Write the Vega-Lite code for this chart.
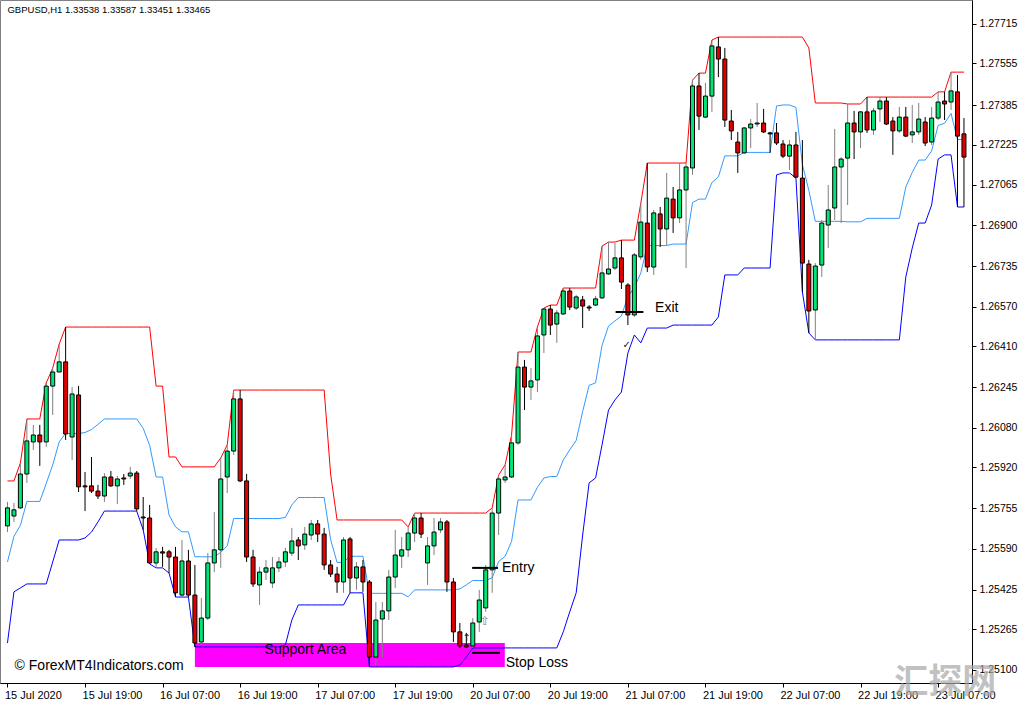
{
"$schema":"https://vega.github.io/schema/vega-lite/v6.json",
"width":972,"height":683,"padding":{"left":0,"top":0,"right":52,"bottom":21},"autosize":{"type":"none"},
"background":"white",
"config":{"view":{"stroke":"#808080"},"font":"Liberation Sans"},
"datasets":{
"bars":[
{"i":0,"o":1.25683,"h":1.25780,"l":1.25658,"c":1.25756,"up":1.25865,"md":1.25537,"lo":1.25209},
{"i":1,"o":1.25723,"h":1.25776,"l":1.25699,"c":1.25748,"up":1.25865,"md":1.25641,"lo":1.25416},
{"i":2,"o":1.25756,"h":1.25938,"l":1.25752,"c":1.25893,"up":1.25938,"md":1.25685,"lo":1.25432},
{"i":3,"o":1.25893,"h":1.26116,"l":1.25857,"c":1.26027,"up":1.26116,"md":1.25782,"lo":1.25448},
{"i":4,"o":1.26023,"h":1.26092,"l":1.25990,"c":1.26051,"up":1.26116,"md":1.25782,"lo":1.25448},
{"i":5,"o":1.26051,"h":1.26092,"l":1.25926,"c":1.26023,"up":1.26116,"md":1.25782,"lo":1.25448},
{"i":6,"o":1.26023,"h":1.26262,"l":1.26003,"c":1.26249,"up":1.26262,"md":1.25855,"lo":1.25448},
{"i":7,"o":1.26249,"h":1.26322,"l":1.26132,"c":1.26306,"up":1.26322,"md":1.25930,"lo":1.25537},
{"i":8,"o":1.26306,"h":1.26419,"l":1.26306,"c":1.26347,"up":1.26419,"md":1.26023,"lo":1.25626},
{"i":9,"o":1.26347,"h":1.26488,"l":1.26031,"c":1.26055,"up":1.26488,"md":1.26057,"lo":1.25626},
{"i":10,"o":1.26043,"h":1.26245,"l":1.25950,"c":1.26217,"up":1.26488,"md":1.26057,"lo":1.25626},
{"i":11,"o":1.26213,"h":1.26249,"l":1.25820,"c":1.25841,"up":1.26488,"md":1.26057,"lo":1.25626},
{"i":12,"o":1.25845,"h":1.25901,"l":1.25743,"c":1.25841,"up":1.26488,"md":1.26061,"lo":1.25634},
{"i":13,"o":1.25845,"h":1.25962,"l":1.25816,"c":1.25824,"up":1.26488,"md":1.26073,"lo":1.25658},
{"i":14,"o":1.25824,"h":1.25849,"l":1.25792,"c":1.25804,"up":1.26488,"md":1.26094,"lo":1.25699},
{"i":15,"o":1.25804,"h":1.25897,"l":1.25780,"c":1.25881,"up":1.26488,"md":1.26116,"lo":1.25743},
{"i":16,"o":1.25881,"h":1.25905,"l":1.25841,"c":1.25845,"up":1.26488,"md":1.26116,"lo":1.25743},
{"i":17,"o":1.25845,"h":1.25885,"l":1.25772,"c":1.25873,"up":1.26488,"md":1.26116,"lo":1.25743},
{"i":18,"o":1.25877,"h":1.25893,"l":1.25849,"c":1.25873,"up":1.26488,"md":1.26116,"lo":1.25743},
{"i":19,"o":1.25885,"h":1.25922,"l":1.25873,"c":1.25897,"up":1.26488,"md":1.26116,"lo":1.25743},
{"i":20,"o":1.25897,"h":1.25905,"l":1.25743,"c":1.25752,"up":1.26488,"md":1.26116,"lo":1.25743},
{"i":21,"o":1.25719,"h":1.25800,"l":1.25667,"c":1.25715,"up":1.26488,"md":1.26078,"lo":1.25667},
{"i":22,"o":1.25715,"h":1.25768,"l":1.25529,"c":1.25533,"up":1.26488,"md":1.26009,"lo":1.25529},
{"i":23,"o":1.25533,"h":1.25594,"l":1.25513,"c":1.25578,"up":1.26249,"md":1.25881,"lo":1.25513},
{"i":24,"o":1.25578,"h":1.25598,"l":1.25517,"c":1.25573,"up":1.26249,"md":1.25881,"lo":1.25513},
{"i":25,"o":1.25578,"h":1.25586,"l":1.25492,"c":1.25557,"up":1.25962,"md":1.25727,"lo":1.25492},
{"i":26,"o":1.25557,"h":1.25598,"l":1.25395,"c":1.25412,"up":1.25962,"md":1.25679,"lo":1.25395},
{"i":27,"o":1.25403,"h":1.25626,"l":1.25395,"c":1.25541,"up":1.25922,"md":1.25659,"lo":1.25395},
{"i":28,"o":1.25541,"h":1.25586,"l":1.25395,"c":1.25403,"up":1.25922,"md":1.25659,"lo":1.25395},
{"i":29,"o":1.25403,"h":1.25525,"l":1.25193,"c":1.25209,"up":1.25922,"md":1.25558,"lo":1.25193},
{"i":30,"o":1.25213,"h":1.25391,"l":1.25201,"c":1.25310,"up":1.25922,"md":1.25558,"lo":1.25193},
{"i":31,"o":1.25310,"h":1.25573,"l":1.25302,"c":1.25533,"up":1.25922,"md":1.25558,"lo":1.25193},
{"i":32,"o":1.25533,"h":1.25739,"l":1.25496,"c":1.25586,"up":1.25922,"md":1.25558,"lo":1.25193},
{"i":33,"o":1.25586,"h":1.25958,"l":1.25513,"c":1.25873,"up":1.25958,"md":1.25576,"lo":1.25193},
{"i":34,"o":1.25881,"h":1.26011,"l":1.25816,"c":1.25986,"up":1.26011,"md":1.25602,"lo":1.25193},
{"i":35,"o":1.25986,"h":1.26233,"l":1.25970,"c":1.26197,"up":1.26233,"md":1.25713,"lo":1.25193},
{"i":36,"o":1.26197,"h":1.26233,"l":1.25861,"c":1.25865,"up":1.26233,"md":1.25713,"lo":1.25193},
{"i":37,"o":1.25865,"h":1.25893,"l":1.25537,"c":1.25557,"up":1.26233,"md":1.25713,"lo":1.25193},
{"i":38,"o":1.25557,"h":1.25586,"l":1.25436,"c":1.25448,"up":1.26233,"md":1.25713,"lo":1.25193},
{"i":39,"o":1.25444,"h":1.25517,"l":1.25363,"c":1.25496,"up":1.26233,"md":1.25713,"lo":1.25193},
{"i":40,"o":1.25496,"h":1.25545,"l":1.25464,"c":1.25513,"up":1.26233,"md":1.25713,"lo":1.25193},
{"i":41,"o":1.25452,"h":1.25557,"l":1.25432,"c":1.25513,"up":1.26233,"md":1.25713,"lo":1.25193},
{"i":42,"o":1.25513,"h":1.25557,"l":1.25496,"c":1.25537,"up":1.26233,"md":1.25713,"lo":1.25193},
{"i":43,"o":1.25537,"h":1.25594,"l":1.25517,"c":1.25578,"up":1.26233,"md":1.25717,"lo":1.25201},
{"i":44,"o":1.25573,"h":1.25675,"l":1.25561,"c":1.25622,"up":1.26233,"md":1.25768,"lo":1.25302},
{"i":45,"o":1.25626,"h":1.25638,"l":1.25545,"c":1.25602,"up":1.26233,"md":1.25798,"lo":1.25363},
{"i":46,"o":1.25606,"h":1.25679,"l":1.25586,"c":1.25650,"up":1.26233,"md":1.25798,"lo":1.25363},
{"i":47,"o":1.25646,"h":1.25707,"l":1.25626,"c":1.25691,"up":1.26233,"md":1.25798,"lo":1.25363},
{"i":48,"o":1.25691,"h":1.25707,"l":1.25618,"c":1.25650,"up":1.26233,"md":1.25798,"lo":1.25363},
{"i":49,"o":1.25650,"h":1.25675,"l":1.25505,"c":1.25525,"up":1.26233,"md":1.25798,"lo":1.25363},
{"i":50,"o":1.25525,"h":1.25545,"l":1.25476,"c":1.25488,"up":1.25893,"md":1.25628,"lo":1.25363},
{"i":51,"o":1.25488,"h":1.25517,"l":1.25412,"c":1.25456,"up":1.25707,"md":1.25535,"lo":1.25363},
{"i":52,"o":1.25456,"h":1.25638,"l":1.25412,"c":1.25626,"up":1.25707,"md":1.25535,"lo":1.25363},
{"i":53,"o":1.25630,"h":1.25638,"l":1.25412,"c":1.25472,"up":1.25707,"md":1.25560,"lo":1.25412},
{"i":54,"o":1.25472,"h":1.25537,"l":1.25424,"c":1.25517,"up":1.25707,"md":1.25560,"lo":1.25412},
{"i":55,"o":1.25517,"h":1.25545,"l":1.25416,"c":1.25456,"up":1.25707,"md":1.25560,"lo":1.25412},
{"i":56,"o":1.25456,"h":1.25464,"l":1.25112,"c":1.25152,"up":1.25707,"md":1.25410,"lo":1.25112},
{"i":57,"o":1.25152,"h":1.25375,"l":1.25120,"c":1.25302,"up":1.25707,"md":1.25410,"lo":1.25112},
{"i":58,"o":1.25306,"h":1.25375,"l":1.25152,"c":1.25339,"up":1.25707,"md":1.25410,"lo":1.25112},
{"i":59,"o":1.25339,"h":1.25505,"l":1.25302,"c":1.25476,"up":1.25707,"md":1.25410,"lo":1.25112},
{"i":60,"o":1.25476,"h":1.25667,"l":1.25432,"c":1.25565,"up":1.25707,"md":1.25410,"lo":1.25112},
{"i":61,"o":1.25561,"h":1.25638,"l":1.25513,"c":1.25586,"up":1.25707,"md":1.25410,"lo":1.25112},
{"i":62,"o":1.25586,"h":1.25679,"l":1.25557,"c":1.25654,"up":1.25679,"md":1.25396,"lo":1.25112},
{"i":63,"o":1.25654,"h":1.25735,"l":1.25618,"c":1.25715,"up":1.25735,"md":1.25424,"lo":1.25112},
{"i":64,"o":1.25715,"h":1.25735,"l":1.25634,"c":1.25650,"up":1.25735,"md":1.25424,"lo":1.25112},
{"i":65,"o":1.25533,"h":1.25638,"l":1.25444,"c":1.25602,"up":1.25735,"md":1.25424,"lo":1.25112},
{"i":66,"o":1.25602,"h":1.25715,"l":1.25565,"c":1.25658,"up":1.25735,"md":1.25424,"lo":1.25112},
{"i":67,"o":1.25667,"h":1.25715,"l":1.25654,"c":1.25699,"up":1.25735,"md":1.25424,"lo":1.25112},
{"i":68,"o":1.25699,"h":1.25707,"l":1.25416,"c":1.25456,"up":1.25735,"md":1.25424,"lo":1.25112},
{"i":69,"o":1.25456,"h":1.25472,"l":1.25213,"c":1.25254,"up":1.25735,"md":1.25424,"lo":1.25112},
{"i":70,"o":1.25254,"h":1.25290,"l":1.25189,"c":1.25197,"up":1.25735,"md":1.25428,"lo":1.25120},
{"i":71,"o":1.25201,"h":1.25250,"l":1.25189,"c":1.25193,"up":1.25735,"md":1.25444,"lo":1.25152},
{"i":72,"o":1.25197,"h":1.25310,"l":1.25189,"c":1.25290,"up":1.25735,"md":1.25462,"lo":1.25189},
{"i":73,"o":1.25294,"h":1.25424,"l":1.25254,"c":1.25383,"up":1.25735,"md":1.25462,"lo":1.25189},
{"i":74,"o":1.25351,"h":1.25525,"l":1.25335,"c":1.25505,"up":1.25735,"md":1.25462,"lo":1.25189},
{"i":75,"o":1.25505,"h":1.25756,"l":1.25412,"c":1.25735,"up":1.25756,"md":1.25473,"lo":1.25189},
{"i":76,"o":1.25735,"h":1.25889,"l":1.25646,"c":1.25873,"up":1.25889,"md":1.25539,"lo":1.25189},
{"i":77,"o":1.25869,"h":1.25930,"l":1.25857,"c":1.25881,"up":1.25930,"md":1.25560,"lo":1.25189},
{"i":78,"o":1.25881,"h":1.26051,"l":1.25877,"c":1.26019,"up":1.26051,"md":1.25620,"lo":1.25189},
{"i":79,"o":1.26019,"h":1.26387,"l":1.26011,"c":1.26326,"up":1.26387,"md":1.25788,"lo":1.25189},
{"i":80,"o":1.26326,"h":1.26355,"l":1.26152,"c":1.26245,"up":1.26387,"md":1.25788,"lo":1.25189},
{"i":81,"o":1.26245,"h":1.26322,"l":1.26193,"c":1.26270,"up":1.26387,"md":1.25788,"lo":1.25189},
{"i":82,"o":1.26274,"h":1.26488,"l":1.26225,"c":1.26452,"up":1.26488,"md":1.25839,"lo":1.25189},
{"i":83,"o":1.26456,"h":1.26565,"l":1.26383,"c":1.26561,"up":1.26565,"md":1.25877,"lo":1.25189},
{"i":84,"o":1.26561,"h":1.26577,"l":1.26456,"c":1.26496,"up":1.26577,"md":1.25883,"lo":1.25189},
{"i":85,"o":1.26500,"h":1.26557,"l":1.26424,"c":1.26545,"up":1.26577,"md":1.25883,"lo":1.25189},
{"i":86,"o":1.26541,"h":1.26646,"l":1.26537,"c":1.26634,"up":1.26646,"md":1.25950,"lo":1.25254},
{"i":87,"o":1.26634,"h":1.26646,"l":1.26557,"c":1.26569,"up":1.26646,"md":1.25991,"lo":1.25335},
{"i":88,"o":1.26565,"h":1.26618,"l":1.26557,"c":1.26610,"up":1.26646,"md":1.26029,"lo":1.25412},
{"i":89,"o":1.26598,"h":1.26614,"l":1.26484,"c":1.26573,"up":1.26646,"md":1.26146,"lo":1.25646},
{"i":90,"o":1.26569,"h":1.26577,"l":1.26553,"c":1.26565,"up":1.26646,"md":1.26252,"lo":1.25857},
{"i":91,"o":1.26577,"h":1.26614,"l":1.26573,"c":1.26602,"up":1.26646,"md":1.26262,"lo":1.25877},
{"i":92,"o":1.26606,"h":1.26816,"l":1.26602,"c":1.26707,"up":1.26816,"md":1.26414,"lo":1.26011},
{"i":93,"o":1.26703,"h":1.26832,"l":1.26699,"c":1.26723,"up":1.26832,"md":1.26492,"lo":1.26152},
{"i":94,"o":1.26727,"h":1.26828,"l":1.26719,"c":1.26768,"up":1.26832,"md":1.26513,"lo":1.26193},
{"i":95,"o":1.26768,"h":1.26840,"l":1.26642,"c":1.26670,"up":1.26840,"md":1.26533,"lo":1.26225},
{"i":96,"o":1.26658,"h":1.26666,"l":1.26496,"c":1.26537,"up":1.26840,"md":1.26612,"lo":1.26383},
{"i":97,"o":1.26537,"h":1.26788,"l":1.26529,"c":1.26780,"up":1.26840,"md":1.26648,"lo":1.26456},
{"i":98,"o":1.26772,"h":1.26990,"l":1.26760,"c":1.26913,"up":1.26990,"md":1.26707,"lo":1.26424},
{"i":99,"o":1.26909,"h":1.27152,"l":1.26711,"c":1.26731,"up":1.27152,"md":1.26818,"lo":1.26484},
{"i":100,"o":1.26731,"h":1.26962,"l":1.26699,"c":1.26950,"up":1.27152,"md":1.26818,"lo":1.26484},
{"i":101,"o":1.26946,"h":1.26974,"l":1.26812,"c":1.26885,"up":1.27152,"md":1.26818,"lo":1.26484},
{"i":102,"o":1.26885,"h":1.27112,"l":1.26820,"c":1.27010,"up":1.27152,"md":1.26818,"lo":1.26484},
{"i":103,"o":1.27006,"h":1.27055,"l":1.26869,"c":1.26930,"up":1.27152,"md":1.26824,"lo":1.26496},
{"i":104,"o":1.26930,"h":1.27152,"l":1.26909,"c":1.27043,"up":1.27152,"md":1.26824,"lo":1.26496},
{"i":105,"o":1.27043,"h":1.27152,"l":1.26727,"c":1.27136,"up":1.27152,"md":1.26824,"lo":1.26496},
{"i":106,"o":1.27132,"h":1.27488,"l":1.27104,"c":1.27464,"up":1.27488,"md":1.26992,"lo":1.26496},
{"i":107,"o":1.27464,"h":1.27516,"l":1.27286,"c":1.27342,"up":1.27516,"md":1.27006,"lo":1.26496},
{"i":108,"o":1.27338,"h":1.27476,"l":1.27334,"c":1.27423,"up":1.27516,"md":1.27006,"lo":1.26496},
{"i":109,"o":1.27423,"h":1.27650,"l":1.27359,"c":1.27626,"up":1.27650,"md":1.27073,"lo":1.26496},
{"i":110,"o":1.27622,"h":1.27662,"l":1.27500,"c":1.27573,"up":1.27662,"md":1.27096,"lo":1.26529},
{"i":111,"o":1.27573,"h":1.27618,"l":1.27298,"c":1.27326,"up":1.27662,"md":1.27181,"lo":1.26699},
{"i":112,"o":1.27322,"h":1.27367,"l":1.27245,"c":1.27282,"up":1.27662,"md":1.27181,"lo":1.26699},
{"i":113,"o":1.27237,"h":1.27278,"l":1.27112,"c":1.27193,"up":1.27662,"md":1.27181,"lo":1.26699},
{"i":114,"o":1.27193,"h":1.27298,"l":1.27189,"c":1.27294,"up":1.27662,"md":1.27195,"lo":1.26727},
{"i":115,"o":1.27294,"h":1.27330,"l":1.27213,"c":1.27310,"up":1.27662,"md":1.27195,"lo":1.26727},
{"i":116,"o":1.27310,"h":1.27395,"l":1.27298,"c":1.27314,"up":1.27662,"md":1.27195,"lo":1.26727},
{"i":117,"o":1.27314,"h":1.27371,"l":1.27274,"c":1.27278,"up":1.27662,"md":1.27195,"lo":1.26727},
{"i":118,"o":1.27274,"h":1.27278,"l":1.27193,"c":1.27270,"up":1.27662,"md":1.27195,"lo":1.26727},
{"i":119,"o":1.27274,"h":1.27314,"l":1.27225,"c":1.27233,"up":1.27662,"md":1.27383,"lo":1.27104},
{"i":120,"o":1.27229,"h":1.27245,"l":1.27172,"c":1.27180,"up":1.27662,"md":1.27387,"lo":1.27112},
{"i":121,"o":1.27180,"h":1.27245,"l":1.27124,"c":1.27225,"up":1.27662,"md":1.27387,"lo":1.27112},
{"i":122,"o":1.27225,"h":1.27278,"l":1.27091,"c":1.27095,"up":1.27662,"md":1.27377,"lo":1.27091},
{"i":123,"o":1.27091,"h":1.27245,"l":1.26630,"c":1.26747,"up":1.27662,"md":1.27146,"lo":1.26630},
{"i":124,"o":1.26743,"h":1.26760,"l":1.26464,"c":1.26553,"up":1.27618,"md":1.27041,"lo":1.26464},
{"i":125,"o":1.26557,"h":1.26747,"l":1.26436,"c":1.26735,"up":1.27395,"md":1.26916,"lo":1.26436},
{"i":126,"o":1.26739,"h":1.26921,"l":1.26691,"c":1.26909,"up":1.27395,"md":1.26916,"lo":1.26436},
{"i":127,"o":1.26901,"h":1.27063,"l":1.26808,"c":1.26962,"up":1.27395,"md":1.26916,"lo":1.26436},
{"i":128,"o":1.26970,"h":1.27290,"l":1.26921,"c":1.27136,"up":1.27395,"md":1.26916,"lo":1.26436},
{"i":129,"o":1.27136,"h":1.27176,"l":1.26909,"c":1.27168,"up":1.27395,"md":1.26916,"lo":1.26436},
{"i":130,"o":1.27172,"h":1.27391,"l":1.26982,"c":1.27314,"up":1.27391,"md":1.26914,"lo":1.26436},
{"i":131,"o":1.27314,"h":1.27363,"l":1.27168,"c":1.27278,"up":1.27391,"md":1.26914,"lo":1.26436},
{"i":132,"o":1.27278,"h":1.27363,"l":1.27213,"c":1.27359,"up":1.27391,"md":1.26914,"lo":1.26436},
{"i":133,"o":1.27359,"h":1.27419,"l":1.27274,"c":1.27286,"up":1.27419,"md":1.26928,"lo":1.26436},
{"i":134,"o":1.27286,"h":1.27375,"l":1.27266,"c":1.27363,"up":1.27419,"md":1.26928,"lo":1.26436},
{"i":135,"o":1.27371,"h":1.27419,"l":1.27318,"c":1.27403,"up":1.27419,"md":1.26928,"lo":1.26436},
{"i":136,"o":1.27403,"h":1.27419,"l":1.27306,"c":1.27310,"up":1.27419,"md":1.26928,"lo":1.26436},
{"i":137,"o":1.27322,"h":1.27338,"l":1.27185,"c":1.27282,"up":1.27419,"md":1.26928,"lo":1.26436},
{"i":138,"o":1.27282,"h":1.27379,"l":1.27274,"c":1.27338,"up":1.27419,"md":1.26928,"lo":1.26436},
{"i":139,"o":1.27338,"h":1.27379,"l":1.27257,"c":1.27261,"up":1.27419,"md":1.27055,"lo":1.26691},
{"i":140,"o":1.27266,"h":1.27387,"l":1.27233,"c":1.27278,"up":1.27419,"md":1.27114,"lo":1.26808},
{"i":141,"o":1.27278,"h":1.27395,"l":1.27266,"c":1.27330,"up":1.27419,"md":1.27164,"lo":1.26909},
{"i":142,"o":1.27318,"h":1.27338,"l":1.27221,"c":1.27233,"up":1.27419,"md":1.27164,"lo":1.26909},
{"i":143,"o":1.27237,"h":1.27379,"l":1.27225,"c":1.27334,"up":1.27419,"md":1.27201,"lo":1.26982},
{"i":144,"o":1.27334,"h":1.27440,"l":1.27326,"c":1.27399,"up":1.27440,"md":1.27304,"lo":1.27168},
{"i":145,"o":1.27403,"h":1.27440,"l":1.27326,"c":1.27391,"up":1.27440,"md":1.27313,"lo":1.27185},
{"i":146,"o":1.27399,"h":1.27520,"l":1.27367,"c":1.27444,"up":1.27520,"md":1.27353,"lo":1.27185},
{"i":147,"o":1.27440,"h":1.27508,"l":1.26974,"c":1.27261,"up":1.27520,"md":1.27247,"lo":1.26974},
{"i":148,"o":1.27270,"h":1.27334,"l":1.26974,"c":1.27176,"up":1.27520,"md":1.27247,"lo":1.26974}
],
"notes":[
{"kind":"zone","x":29.0,"x2":76.95,"y":1.25112,"y2":1.25209},
{"kind":"level","x":71.9,"x2":75.9,"y":1.25513},
{"kind":"level","x":71.9,"x2":76.2,"y":1.25169},
{"kind":"level","x":94.1,"x2":98.4,"y":1.26549},
{"kind":"zonelabel","x":46.1,"y":1.25181,"label":"Support Area"},
{"kind":"tag","x":76.5,"y":1.25513,"label":"Entry"},
{"kind":"tag","x":77.1,"y":1.25128,"label":"Stop Loss"},
{"kind":"tag","x":100.2,"y":1.26565,"label":"Exit"},
{"kind":"tag","x":1.1,"y":1.25116,"label":"© ForexMT4Indicators.com"},
{"kind":"title","x":0.0,"y":1.27772,"label":"GBPUSD,H1  1.33538 1.33587 1.33451 1.33465"},
{"kind":"hollow","x":73.9,"y":1.25298,"label":"⇧"},
{"kind":"arrow","x":71.0,"y":1.25229,"label":"↑"},
{"kind":"check","x":95.8,"y":1.26415,"label":"✓"},
{"kind":"stamp","x":145.1,"y":1.25047,"label":"汇探网"}
]
},
"layer":[
{"data":{"name":"notes"},"transform":[{"filter":"datum.kind == 'zone'"}],
 "mark":{"type":"rect","color":"#FF00FF"},
 "encoding":{
  "x":{"field":"x","type":"quantitative","title":null,"scale":{"domain":[-0.383,148.47],"nice":false,"zero":false},
   "axis":{"values":[0,12,24,36,48,60,72,84,96,108,120,132,144],
    "labelExpr":"['15 Jul 2020','15 Jul 19:00','16 Jul 07:00','16 Jul 19:00','17 Jul 07:00','17 Jul 19:00','20 Jul 07:00','20 Jul 19:00','21 Jul 07:00','21 Jul 19:00','22 Jul 07:00','22 Jul 19:00','23 Jul 07:00'][round(datum.value/12)]",
    "labelAlign":"left","labelOffset":-3,"labelPadding":2,"tickSize":4,"labelFont":"Liberation Sans","labelFontSize":11,"labelColor":"#000000",
    "domainColor":"#000000","tickColor":"#000000","grid":false,"title":null,"labelFlush":false,"labelOverlap":false,"labelBound":false}},
  "x2":{"field":"x2"},
  "y":{"field":"y","type":"quantitative","title":null,"scale":{"domain":[1.25047,1.27812],"nice":false,"zero":false},
   "axis":{"orient":"right","values":[1.251,1.25265,1.25425,1.2559,1.25755,1.2592,1.2608,1.26245,1.2641,1.2657,1.26735,1.269,1.27065,1.27225,1.27385,1.27555,1.27715],
    "format":".5f","labelFont":"Liberation Sans","labelFontSize":10.5,"labelColor":"#000000","tickSize":4,"labelPadding":3,
    "domainColor":"#000000","tickColor":"#000000","grid":false,"title":null,"labelOverlap":false,"labelBound":false}},
  "y2":{"field":"y2"}
 }},
{"data":{"name":"bars"},"mark":{"type":"line","color":"#FF0000","strokeWidth":1},
 "encoding":{"x":{"field":"i","type":"quantitative","title":null,"scale":{"domain":[-0.383,148.47],"nice":false,"zero":false}},
  "y":{"field":"up","type":"quantitative","title":null,"scale":{"domain":[1.25047,1.27812],"nice":false,"zero":false}}}},
{"data":{"name":"bars"},"mark":{"type":"line","color":"#3399FF","strokeWidth":1},
 "encoding":{"x":{"field":"i","type":"quantitative","title":null,"scale":{"domain":[-0.383,148.47],"nice":false,"zero":false}},
  "y":{"field":"md","type":"quantitative","title":null,"scale":{"domain":[1.25047,1.27812],"nice":false,"zero":false}}}},
{"data":{"name":"bars"},"mark":{"type":"line","color":"#0000FF","strokeWidth":1},
 "encoding":{"x":{"field":"i","type":"quantitative","title":null,"scale":{"domain":[-0.383,148.47],"nice":false,"zero":false}},
  "y":{"field":"lo","type":"quantitative","title":null,"scale":{"domain":[1.25047,1.27812],"nice":false,"zero":false}}}},
{"data":{"name":"bars"},"mark":{"type":"rule","strokeWidth":1},
 "encoding":{"x":{"field":"i","type":"quantitative","title":null,"scale":{"domain":[-0.383,148.47],"nice":false,"zero":false}},
  "y":{"field":"l","type":"quantitative","title":null,"scale":{"domain":[1.25047,1.27812],"nice":false,"zero":false}},
  "y2":{"field":"h"},
  "color":{"condition":{"test":"datum.c >= datum.o","value":"#808080"},"value":"#000000"}}},
{"data":{"name":"bars"},"mark":{"type":"bar","size":4,"stroke":"#000000","strokeWidth":1},
 "encoding":{"x":{"field":"i","type":"quantitative","title":null,"scale":{"domain":[-0.383,148.47],"nice":false,"zero":false}},
  "y":{"field":"o","type":"quantitative","title":null,"scale":{"domain":[1.25047,1.27812],"nice":false,"zero":false}},
  "y2":{"field":"c"},
  "fill":{"condition":{"test":"datum.c >= datum.o","value":"#00E676"},"value":"#E00000"}}},
{"data":{"name":"notes"},"transform":[{"filter":"datum.kind == 'level'"}],
 "mark":{"type":"rule","color":"#000000","strokeWidth":2},
 "encoding":{"x":{"field":"x","type":"quantitative","title":null,"scale":{"domain":[-0.383,148.47],"nice":false,"zero":false}},
  "x2":{"field":"x2"},
  "y":{"field":"y","type":"quantitative","title":null,"scale":{"domain":[1.25047,1.27812],"nice":false,"zero":false}}}},
{"data":{"name":"notes"},"transform":[{"filter":"datum.kind == 'zonelabel'"}],
 "mark":{"type":"text","font":"Liberation Sans","fontSize":14,"align":"center","baseline":"middle","color":"#000000"},
 "encoding":{"x":{"field":"x","type":"quantitative","title":null,"scale":{"domain":[-0.383,148.47],"nice":false,"zero":false}},
  "y":{"field":"y","type":"quantitative","title":null,"scale":{"domain":[1.25047,1.27812],"nice":false,"zero":false}},
  "text":{"field":"label"}}},
{"data":{"name":"notes"},"transform":[{"filter":"datum.kind == 'tag'"}],
 "mark":{"type":"text","font":"Liberation Sans","fontSize":14,"align":"left","baseline":"middle","color":"#000000"},
 "encoding":{"x":{"field":"x","type":"quantitative","title":null,"scale":{"domain":[-0.383,148.47],"nice":false,"zero":false}},
  "y":{"field":"y","type":"quantitative","title":null,"scale":{"domain":[1.25047,1.27812],"nice":false,"zero":false}},
  "text":{"field":"label"}}},
{"data":{"name":"notes"},"transform":[{"filter":"datum.kind == 'title'"}],
 "mark":{"type":"text","font":"Liberation Sans","fontSize":9.5,"align":"left","baseline":"middle","color":"#000000"},
 "encoding":{"x":{"field":"x","type":"quantitative","title":null,"scale":{"domain":[-0.383,148.47],"nice":false,"zero":false}},
  "y":{"field":"y","type":"quantitative","title":null,"scale":{"domain":[1.25047,1.27812],"nice":false,"zero":false}},
  "text":{"field":"label"}}},
{"data":{"name":"notes"},"transform":[{"filter":"datum.kind == 'hollow'"}],
 "mark":{"type":"text","font":"DejaVu Sans","fontSize":12,"align":"center","baseline":"middle","color":"#808080"},
 "encoding":{"x":{"field":"x","type":"quantitative","title":null,"scale":{"domain":[-0.383,148.47],"nice":false,"zero":false}},
  "y":{"field":"y","type":"quantitative","title":null,"scale":{"domain":[1.25047,1.27812],"nice":false,"zero":false}},
  "text":{"field":"label"}}},
{"data":{"name":"notes"},"transform":[{"filter":"datum.kind == 'arrow' || datum.kind == 'check'"}],
 "mark":{"type":"text","font":"DejaVu Sans","fontSize":10,"align":"center","baseline":"middle","color":"#202020"},
 "encoding":{"x":{"field":"x","type":"quantitative","title":null,"scale":{"domain":[-0.383,148.47],"nice":false,"zero":false}},
  "y":{"field":"y","type":"quantitative","title":null,"scale":{"domain":[1.25047,1.27812],"nice":false,"zero":false}},
  "text":{"field":"label"}}},
{"data":{"name":"notes"},"transform":[{"filter":"datum.kind == 'stamp'"}],
 "mark":{"type":"text","font":"Noto Sans CJK SC","fontSize":34,"fontWeight":"bold","align":"center","baseline":"middle","color":"#a8a8a8","opacity":0.7},
 "encoding":{"x":{"field":"x","type":"quantitative","title":null,"scale":{"domain":[-0.383,148.47],"nice":false,"zero":false}},
  "y":{"field":"y","type":"quantitative","title":null,"scale":{"domain":[1.25047,1.27812],"nice":false,"zero":false}},
  "text":{"field":"label"}}}
]
}
